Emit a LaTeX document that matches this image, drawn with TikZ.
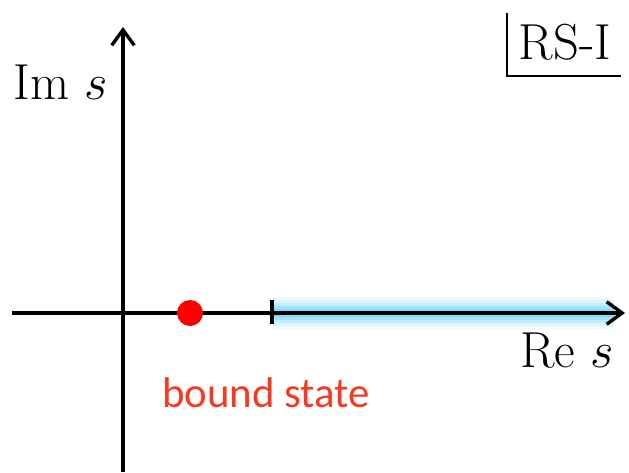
\RequirePackage{fix-cm}
\documentclass[tikz,border=0pt]{standalone}
\usepackage{fontspec}
\newfontfamily\labelfont{Carlito}
\usetikzlibrary{arrows.meta,positioning}
\definecolor{glowblue}{RGB}{0,176,240}
\definecolor{dotred}{RGB}{255,0,0}
\definecolor{labelred}{RGB}{245,58,36}

\begin{document}
\begin{tikzpicture}[x=0.025cm,y=-0.025cm,
    axis/.style={line width=2.4pt,-{Straight Barb[length=11pt,width=16pt]}},
    big/.style={font=\fontsize{36}{43}\selectfont,inner sep=0pt}]
  \useasboundingbox (0,0) rectangle (629,472);
  % axes
  \coordinate (xstart) at (12,313);
  \coordinate (xend)   at (625,313);
  \coordinate (ystart) at (123,472);
  \coordinate (yend)   at (123,27);
  \coordinate (thr)    at (272,313);
  \coordinate (cutend) at (614,313);
  % branch cut glow
  \foreach \w/\o in {32/0.06,26/0.08,20/0.12,14/0.16,8/0.18}
    \draw[glowblue,line width=\w*0.711pt,opacity=\o] (thr) -- (cutend);
  \draw[axis] (xstart) -- (xend);
  \draw[axis] (ystart) -- (yend);
  \draw[line width=2.4pt] ([yshift=0.33cm]thr) -- ([yshift=-0.28cm]thr);
  \node[circle,fill=dotred,minimum size=0.65cm,inner sep=0pt] (pole) at (190,313) {};
  % labels
  \node[big,anchor=base] (ims) at (61,100) {Im $s$};
  \node[big,anchor=base] (res) at (567,367) {Re $s$};
  \node[anchor=base,text=labelred,font=\labelfont\fontsize{30.5}{36}\selectfont] (bound) at (266,407) {bound state};
  \node[big,anchor=base] (sheet) at (565,60) {RS-I};
  \coordinate (boxtop) at (507,13);
  \coordinate (boxcorner) at (507,76);
  \coordinate (boxend) at (621,76);
  \draw[line width=0.8pt] (boxtop) -- (boxcorner) -- (boxend);
\end{tikzpicture}
\end{document}
